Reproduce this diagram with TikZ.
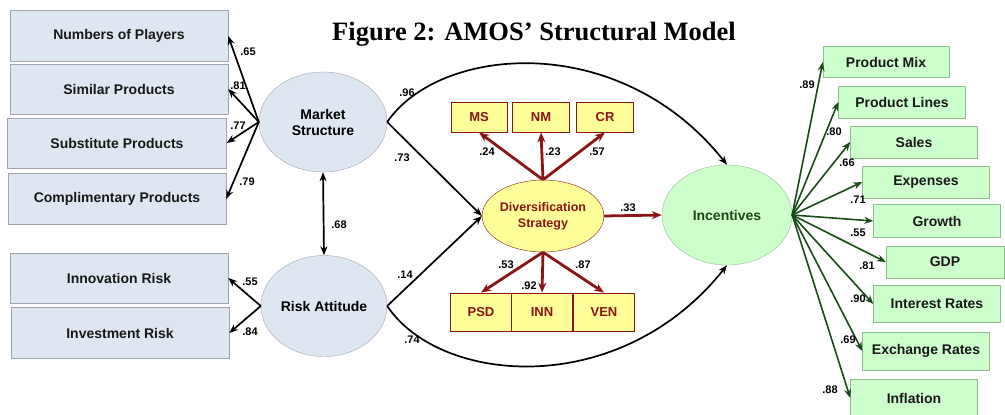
\documentclass[tikz,border=0pt]{standalone}
\usepackage{fontspec}
\setmainfont{Liberation Serif}
\setsansfont{Liberation Sans}
\usepackage{tikz}
\usetikzlibrary{arrows.meta, shapes.geometric}
\definecolor{boxblue}{RGB}{222,230,242}
\definecolor{boxline}{RGB}{160,165,175}
\definecolor{ylwfill}{RGB}{255,255,153}
\definecolor{darkred}{RGB}{140,20,20}
\definecolor{grnfill}{RGB}{204,255,204}
\definecolor{grnline}{RGB}{140,190,140}
\definecolor{darkgreen}{RGB}{25,75,25}

\begin{document}
\begin{tikzpicture}[x=1pt, y=-1pt,
  every node/.style={font=\sffamily\bfseries\fontsize{14}{16}\selectfont, inner sep=0pt},
  bluebox/.style={draw=boxline, fill=boxblue, minimum width=218pt, minimum height=50pt, text=black!90},
  blueoval/.style={ellipse, draw=boxline, fill=boxblue, minimum width=128pt, minimum height=100pt, align=center},
  redbox/.style={draw=darkred, thick, fill=ylwfill, minimum width=57pt, minimum height=30pt, text=darkred, font=\sffamily\bfseries\fontsize{13}{15}\selectfont},
  greenbox/.style={draw=grnline, fill=grnfill, minimum width=127pt, minimum height=32pt, text=black!90},
  coef/.style={font=\sffamily\bfseries\fontsize{11}{13}\selectfont},
  blk/.style={-{Stealth[length=9pt,width=7pt]}, line width=1.7pt},
  redarr/.style={-{Stealth[length=10pt,width=8pt]}, line width=2.8pt, darkred},
  grnarr/.style={-{Stealth[length=9pt,width=7pt]}, line width=1.6pt, darkgreen}]
  \useasboundingbox (0,0) rectangle (1005,415);

  % Title
  \node[font=\rmfamily\bfseries\fontsize{26.5}{30}\selectfont, anchor=base] (title) at (534,41) {Figure 2: AMOS’ Structural Model};

  % Left observed variables
  \node[bluebox, minimum height=51pt] (np) at (119,36) {Numbers of Players};
  \node[bluebox] (sp) at (119,89) {Similar Products};
  \node[bluebox, minimum width=219pt] (sb) at (117,143) {Substitute Products};
  \node[bluebox, minimum height=51pt] (cp) at (117,199) {Complimentary Products};
  \node[bluebox] (ir) at (119,278) {Innovation Risk};
  \node[bluebox, minimum height=51pt] (iv) at (120,333) {Investment Risk};

  % Latent variables
  \node[blueoval] (ms) at (323,122) {Market\\Structure};
  \node[blueoval, minimum width=126pt, minimum height=101pt] (ra) at (324,306) {Risk Attitude};
  \node[ellipse, draw=darkred, fill=ylwfill, minimum width=118pt, minimum height=72pt, align=center,
        text=darkred, font=\sffamily\bfseries\fontsize{12.5}{16}\selectfont] (div) at (543,216) {Diversification\\Strategy};
  \node[ellipse, draw=grnline, fill=grnfill, minimum width=130pt, minimum height=100pt, text=darkgreen] (inc) at (727,215) {Incentives};

  % Strategy indicators
  \node[redbox, minimum width=56pt] (msb) at (479,117) {MS};
  \node[redbox] (nm) at (541,117) {NM};
  \node[redbox] (cr) at (605,117) {CR};
  \node[redbox, minimum width=61pt, minimum height=38pt] (psd) at (481,312) {PSD};
  \node[redbox, minimum width=61pt, minimum height=38pt] (inn) at (542,312) {INN};
  \node[redbox, minimum width=61pt, minimum height=38pt] (ven) at (604,312) {VEN};

  % Right observed variables
  \node[greenbox, minimum width=126pt, minimum height=31pt] (pm) at (886,62) {Product Mix};
  \node[greenbox] (pl) at (902,102) {Product Lines};
  \node[greenbox] (sa) at (914,142) {Sales};
  \node[greenbox] (ex) at (926,182) {Expenses};
  \node[greenbox, minimum height=33pt] (gr) at (937,221) {Growth};
  \node[greenbox, minimum width=118pt] (gdp) at (945,262) {GDP};
  \node[greenbox, minimum height=37pt] (rt) at (937,304) {Interest Rates};
  \node[greenbox, minimum height=38pt] (er) at (926,351) {Exchange Rates};
  \node[greenbox, minimum height=38pt] (inf) at (914,398) {Inflation};

  % Loadings on the left
  \draw[blk] (ms.west) -- (np.east);
  \draw[blk] (ms.west) -- (sp.east);
  \draw[blk] (ms.west) -- (sb.east);
  \draw[blk] (ms.west) -- (cp.east);
  \draw[blk] (ra.west) -- (ir.east);
  \draw[blk] (ra.west) -- (iv.east);
  \node[coef] (l65) at (248,52) {.65};
  \node[coef] (l81a) at (238,86) {.81};
  \node[coef] (l77) at (238,126) {.77};
  \node[coef] (l79) at (247,182) {.79};
  \node[coef] (l55a) at (250,282) {.55};
  \node[coef] (l84) at (250,332) {.84};

  % Covariance
  \draw[{Stealth[length=9pt,width=7pt]}-{Stealth[length=9pt,width=7pt]}, line width=1.7pt] (ms.south) -- (ra.north);
  \node[coef] (l68) at (339,225) {.68};

  % Structural paths
  \draw[blk] (ms.east) .. controls (440,45) and (620,30) .. (inc.north);
  \draw[blk] (ms.east) -- (div.west);
  \draw[blk] (ra.east) -- (div.west);
  \draw[blk] (ra.east) .. controls (440,385) and (620,400) .. (inc.south);
  \draw[redarr] (div.east) -- (inc.west);
  \node[coef] (l96) at (407,93) {.96};
  \node[coef] (l73) at (402,158) {.73};
  \node[coef] (l14) at (405,275) {.14};
  \node[coef] (l74) at (412,340) {.74};
  \node[coef] (l33) at (628,208) {.33};

  % Strategy loadings
  \draw[redarr] (div.north) -- (msb.south);
  \draw[redarr] (div.north) -- (nm.south);
  \draw[redarr] (div.north) -- (cr.south);
  \draw[redarr] (div.south) -- (psd.north);
  \draw[redarr] (div.south) -- (inn.north);
  \draw[redarr] (div.south) -- (ven.north);
  \node[coef] (l24) at (487,152) {.24};
  \node[coef] (l23) at (553,152) {.23};
  \node[coef] (l57) at (597,152) {.57};
  \node[coef] (l53) at (506,265) {.53};
  \node[coef] (l92) at (529,286) {.92};
  \node[coef] (l87) at (583,265) {.87};

  % Loadings on the right
  \draw[grnarr] (inc.east) -- (pm.west);
  \draw[grnarr] (inc.east) -- (pl.west);
  \draw[grnarr] (inc.east) -- (sa.west);
  \draw[grnarr] (inc.east) -- (ex.west);
  \draw[grnarr] (inc.east) -- (gr.west);
  \draw[grnarr] (inc.east) -- (gdp.west);
  \draw[grnarr] (inc.east) -- (rt.west);
  \draw[grnarr] (inc.east) -- (er.west);
  \draw[grnarr] (inc.east) -- (inf.west);
  \node[coef] (l89) at (807,85) {.89};
  \node[coef] (l80) at (834,132) {.80};
  \node[coef] (l66) at (847,163) {.66};
  \node[coef] (l71) at (858,200) {.71};
  \node[coef] (l55b) at (858,233) {.55};
  \node[coef] (l81b) at (867,266) {.81};
  \node[coef] (l90) at (858,299) {.90};
  \node[coef] (l69) at (848,340) {.69};
  \node[coef] (l88) at (830,390) {.88};
\end{tikzpicture}
\end{document}
